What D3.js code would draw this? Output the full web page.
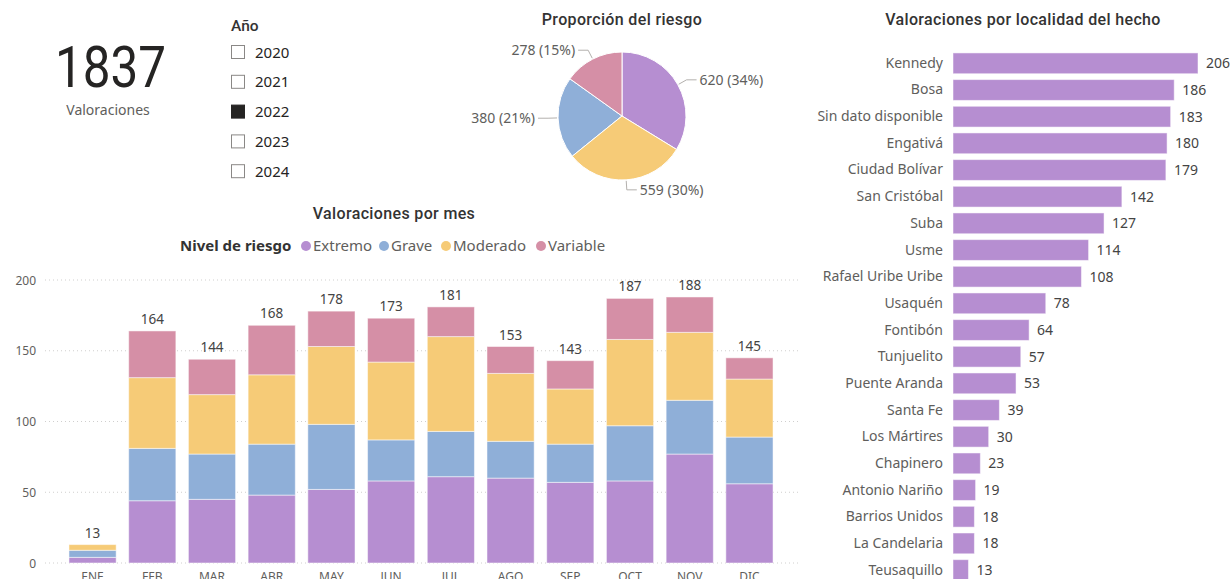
<!DOCTYPE html>
<html lang="es">
<head>
<meta charset="utf-8">
<title>Valoraciones 2022</title>
<script src="https://cdn.jsdelivr.net/npm/d3@7"></script>
<style type="text/css">
    body { margin: 0; background: #fff; }
    svg { display: block; }
    text { font-family: "Noto Sans", "Open Sans", sans-serif; }
    .title { font-family: Roboto, sans-serif; font-weight: 500; font-size: 16px; letter-spacing: 0.35px; fill: #333; }
    .lbl { font-size: 14px; fill: #605E5C; }
    .val { font-size: 13.5px; fill: #444; }
    .axis-lbl { font-size: 12px; fill: #605E5C; }
</style>
</head>
<body>
<script>

// data
const totalValoraciones = 1837;
const years = [2020, 2021, 2022, 2023, 2024];
const selectedYear = 2022;

const months = ["ENE", "FEB", "MAR", "ABR", "MAY", "JUN", "JUL", "AGO", "SEP", "OCT", "NOV", "DIC"];
const extremo  = [4, 44, 45, 48, 52, 58, 61, 60, 57, 58, 77, 56];
const grave    = [5, 37, 32, 36, 46, 29, 32, 26, 27, 39, 38, 33];
const moderado = [4, 50, 42, 49, 55, 55, 67, 48, 39, 61, 48, 41];
const variable = [0, 33, 25, 35, 25, 31, 21, 19, 20, 29, 25, 15];
const yTicks = [0, 50, 100, 150, 200];

const riskLevels = ["Extremo", "Grave", "Moderado", "Variable"];
const riskColors = ["#B68ED1", "#8FAFD8", "#F6CB77", "#D58FA6"];

const localidades = ["Kennedy", "Bosa", "Sin dato disponible", "Engativá", "Ciudad Bolívar",
    "San Cristóbal", "Suba", "Usme", "Rafael Uribe Uribe", "Usaquén", "Fontibón", "Tunjuelito",
    "Puente Aranda", "Santa Fe", "Los Mártires", "Chapinero", "Antonio Nariño", "Barrios Unidos",
    "La Candelaria", "Teusaquillo"];
const localidadValues = [206, 186, 183, 180, 179, 142, 127, 114, 108, 78, 64, 57, 53, 39, 30, 23, 19, 18, 18, 13];

const W = 1232, H = 579;
const color = d3.scaleOrdinal().domain(riskLevels).range(riskColors);

let svg = d3.select("body").append("svg")
    .attr("width", W)
    .attr("height", H);

// KPI card
svg.append("text")
    .attr("x", 55).attr("y", 87)
    .attr("textLength", 111)
    .attr("lengthAdjust", "spacingAndGlyphs")
    .style("font-family", "Roboto, sans-serif")
    .style("font-size", "58px")
    .style("fill", "#252423")
    .text(totalValoraciones);
svg.append("text")
    .attr("x", 108).attr("y", 115)
    .attr("text-anchor", "middle")
    .style("font-size", "14px")
    .style("fill", "#605E5C")
    .text("Valoraciones");

// year slicer
svg.append("text")
    .attr("x", 231).attr("y", 31)
    .style("font-family", "Roboto, sans-serif")
    .style("font-weight", 500)
    .style("font-size", "15.5px")
    .style("fill", "#333")
    .text("Año");

let yearRow = svg.selectAll("g.year")
    .data(years)
    .enter().append("g")
    .attr("class", "year")
    .attr("transform", (d, i) => "translate(231," + (52 + i * 29.8) + ")");
yearRow.append("rect")
    .attr("x", 0.5).attr("y", -6.5)
    .attr("width", 13).attr("height", 13)
    .attr("fill", d => d === selectedYear ? "#252423" : "#fff")
    .attr("stroke", d => d === selectedYear ? "#252423" : "#8a8886");
yearRow.append("text")
    .attr("x", 24).attr("y", 5.5)
    .style("font-size", "15px")
    .style("fill", "#252423")
    .text(d => d);

// pie: Proporción del riesgo
svg.append("text").attr("class", "title")
    .attr("x", 622).attr("y", 25)
    .attr("text-anchor", "middle")
    .text("Proporción del riesgo");

let series = [extremo, grave, moderado, variable];
let pieData = riskLevels.map((k, i) => ({ key: k, value: d3.sum(series[i]) }));
let pieTotal = d3.sum(pieData, d => d.value);

let r = 64;
let pieG = svg.append("g").attr("transform", "translate(622,116)");
let arcs = d3.pie().value(d => d.value)(pieData);   // default sort: descending
let arc = d3.arc().innerRadius(0).outerRadius(r);

pieG.selectAll("path")
    .data(arcs)
    .enter().append("path")
    .attr("d", arc)
    .attr("fill", d => color(d.data.key))
    .attr("stroke", "#fff")
    .attr("stroke-width", 1);

arcs.forEach(a => {
    let mid = (a.startAngle + a.endAngle) / 2;
    let sx = Math.sin(mid), sy = -Math.cos(mid);
    let right = sx >= 0;
    let p1 = [sx * (r + 1), sy * (r + 1)];
    let p2 = [sx * (r + 10), sy * (r + 10)];
    let p3 = [p2[0] + (right ? 10 : -10), p2[1]];
    pieG.append("polyline")
        .attr("points", [p1, p2, p3].map(p => p.join(",")).join(" "))
        .attr("fill", "none")
        .attr("stroke", "#b3b0ad")
        .attr("stroke-width", 1);
    pieG.append("text").attr("class", "lbl")
        .attr("x", p3[0] + (right ? 3 : -3))
        .attr("y", p3[1] + 5)
        .attr("text-anchor", right ? "start" : "end")
        .text(a.data.value + " (" + Math.round(a.data.value / pieTotal * 100) + "%)");
});

// stacked bar: Valoraciones por mes
svg.append("text").attr("class", "title")
    .attr("x", 394).attr("y", 219)
    .attr("text-anchor", "middle")
    .text("Valoraciones por mes");

// legend
let legend = svg.append("g").attr("transform", "translate(180,251)");
legend.append("text")
    .attr("x", 0).attr("y", 0)
    .style("font-size", "15px")
    .style("font-weight", "bold")
    .style("fill", "#333")
    .text("Nivel de riesgo");
let legendX = [306, 384, 446, 541].map(x => x - 180);
riskLevels.forEach((k, i) => {
    legend.append("circle")
        .attr("cx", legendX[i]).attr("cy", -5)
        .attr("r", 5)
        .attr("fill", color(k));
    legend.append("text")
        .attr("x", legendX[i] + 7).attr("y", 0)
        .style("font-size", "15px")
        .style("fill", "#605E5C")
        .text(k);
});

let monthRows = months.map((m, i) => ({
    month: m, Extremo: extremo[i], Grave: grave[i], Moderado: moderado[i], Variable: variable[i]
}));
let stacked = d3.stack().keys(riskLevels)(monthRows);

let xScale = d3.scaleBand()
    .domain(months)
    .range([63, 779])
    .paddingInner(0.21)
    .paddingOuter(0.1);
let yScale = d3.scaleLinear()
    .domain([0, 200])
    .range([563, 280]);

// dotted gridlines
svg.append("g").selectAll("line")
    .data(yTicks)
    .enter().append("line")
    .attr("x1", 45).attr("x2", 800)
    .attr("y1", d => yScale(d)).attr("y2", d => yScale(d))
    .attr("stroke", "#d0cfce")
    .attr("stroke-width", 1)
    .attr("stroke-dasharray", "1,3");

let yAxis = svg.append("g")
    .attr("transform", "translate(36,0)")
    .call(d3.axisLeft(yScale).tickValues(yTicks).tickSize(0).tickPadding(0));
yAxis.select(".domain").remove();
yAxis.selectAll("text").attr("class", "axis-lbl").attr("dy", "0.35em");

svg.append("g").selectAll("g")
    .data(stacked)
    .enter().append("g")
    .attr("fill", d => color(d.key))
    .selectAll("rect")
    .data(d => d)
    .enter().append("rect")
    .attr("x", d => xScale(d.data.month))
    .attr("y", d => yScale(d[1]))
    .attr("width", xScale.bandwidth())
    .attr("height", d => yScale(d[0]) - yScale(d[1]))
    .attr("stroke", "#fff")
    .attr("stroke-opacity", 0.5)
    .attr("stroke-width", 1);

// totals on top
svg.append("g").selectAll("text")
    .data(monthRows)
    .enter().append("text").attr("class", "val")
    .attr("x", d => xScale(d.month) + xScale.bandwidth() / 2)
    .attr("y", d => yScale(d.Extremo + d.Grave + d.Moderado + d.Variable) - 7)
    .attr("text-anchor", "middle")
    .text(d => d.Extremo + d.Grave + d.Moderado + d.Variable);

let xAxis = svg.append("g")
    .attr("transform", "translate(0,570)")
    .call(d3.axisBottom(xScale).tickSize(0).tickPadding(0));
xAxis.select(".domain").remove();
xAxis.selectAll("text").attr("class", "axis-lbl").attr("dy", "0.9em");

// horizontal bar: Valoraciones por localidad del hecho
svg.append("text").attr("class", "title")
    .attr("x", 1023).attr("y", 25)
    .attr("text-anchor", "middle")
    .text("Valoraciones por localidad del hecho");

let locScale = d3.scaleBand()
    .domain(localidades)
    .range([50, 583.4])
    .paddingInner(0.22)
    .paddingOuter(0.11);
let valScale = d3.scaleLinear()
    .domain([0, 206])
    .range([953, 1198]);

svg.append("g").selectAll("rect")
    .data(localidades)
    .enter().append("rect")
    .attr("x", valScale(0))
    .attr("y", d => locScale(d))
    .attr("width", (d, i) => valScale(localidadValues[i]) - valScale(0))
    .attr("height", locScale.bandwidth())
    .attr("fill", riskColors[0])
    .attr("stroke", "#fff")
    .attr("stroke-opacity", 0.5);

let locAxis = svg.append("g")
    .attr("transform", "translate(943,0)")
    .call(d3.axisLeft(locScale).tickSize(0).tickPadding(0));
locAxis.select(".domain").remove();
locAxis.selectAll("text").attr("class", "lbl");

svg.append("g").selectAll("text")
    .data(localidades)
    .enter().append("text").attr("class", "val")
    .attr("x", (d, i) => valScale(localidadValues[i]) + 8)
    .attr("y", d => locScale(d) + locScale.bandwidth() / 2)
    .attr("dy", "0.35em")
    .style("font-size", "14px")
    .text((d, i) => localidadValues[i]);

</script>
</body>
</html>
